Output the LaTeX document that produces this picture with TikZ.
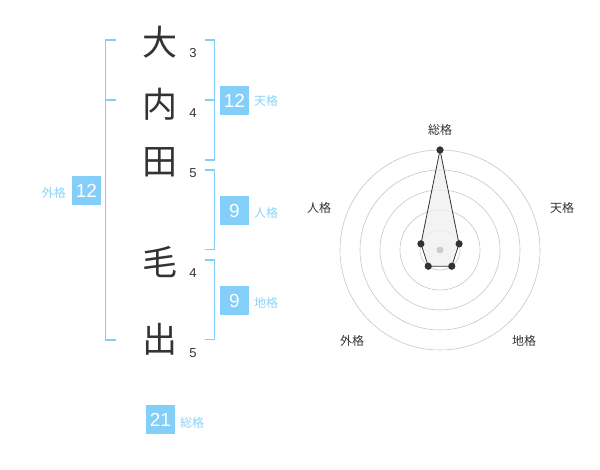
\documentclass[tikz,border=0pt]{standalone}
\usepackage{fontspec}
\setmainfont{Liberation Sans}
\newfontfamily\jp{Noto Sans CJK JP}
\usetikzlibrary{calc}
\definecolor{kakublue}{HTML}{84CFFA}
\definecolor{kakutext}{HTML}{8CD2F8}
\definecolor{inkgray}{HTML}{333333}
\begin{document}
\begin{tikzpicture}[
            x=1pt, y=-1pt,
			kanji/.style = {
			    text=inkgray,
                font=\jp\fontsize{35}{35}\selectfont,
                inner sep=0pt},
            strokes/.style = {
                text=inkgray,
                font=\fontsize{13}{13}\selectfont,
                inner sep=0pt},
            numbox/.style = {
                fill=kakublue,
                text=white,
                minimum size=29pt,
                inner sep=0pt,
                font=\fontsize{19}{19}\selectfont},
            kaku/.style = {
                text=kakutext,
                inner sep=0pt,
                font=\jp\fontsize{12}{12}\selectfont},
            bracket/.style = {
                draw=kakublue,
                line width=1.6pt},
            ring/.style = {
                draw=black!22,
                line width=0.6pt},
            axis/.style = {
                text=inkgray,
                inner sep=0pt,
                font=\jp\fontsize{12}{12}\selectfont},
            dot/.style = {
                circle,
                fill=inkgray,
                inner sep=0pt,
                minimum size=7pt}]
        \useasboundingbox (0,0) rectangle (600,470);
        % Place nodes
        \node [kanji] (c1) at (160,42) {大};
        \node [kanji] (c2) at (160,104) {内};
        \node [kanji] (c3) at (160,162) {田};
        \node [kanji] (c4) at (160,262) {毛};
        \node [kanji] (c5) at (160,339) {出};
        \node [strokes] (s1) at (193,53) {3};
        \node [strokes] (s2) at (193,113) {4};
        \node [strokes] (s3) at (193,173) {5};
        \node [strokes] (s4) at (193,273) {4};
        \node [strokes] (s5) at (193,353) {5};
        \node [numbox] (ten) at (234.5,100.5) {12};
        \node [kaku, anchor=west] (tenl) at (254,101) {天格};
        \node [numbox] (jin) at (234.5,210.5) {9};
        \node [kaku, anchor=west] (jinl) at (254,213) {人格};
        \node [numbox] (chi) at (234.5,300.5) {9};
        \node [kaku, anchor=west] (chil) at (254,303) {地格};
        \node [numbox] (gai) at (86.5,190.5) {12};
        \node [kaku, anchor=east] (gail) at (66,193) {外格};
        \node [numbox] (sou) at (160.5,419.5) {21};
        \node [kaku, anchor=west] (soul) at (180,423) {総格};

        % Draw brackets
        \draw [bracket] (116,40) -- (105.5,40) -- (105.5,340) -- (116,340);
        \draw [bracket] (105.5,100) -- (116,100);
        \draw [bracket] (205,40) -- (214.5,40) -- (214.5,160) -- (205,160);
        \draw [bracket] (205,100) -- (214.5,100);
        \draw [bracket] (205,170) -- (214.5,170) -- (214.5,249.5) -- (205,249.5);
        \draw [bracket] (205,260) -- (214.5,260) -- (214.5,339.5) -- (205,339.5);

        % Radar chart
        \coordinate (c) at (440,250);
        \foreach \r in {20,40,...,100}
            \draw [ring] (c) circle (\r pt);
        \node [axis] (asou) at (440,130) {総格};
        \node [axis] (aten) at (562,208) {天格};
        \node [axis] (achi) at (524,341) {地格};
        \node [axis] (agai) at (352,341) {外格};
        \node [axis] (ajin) at (319,208) {人格};
        \node [dot] (psou) at ($(c)+(-90:100)$) {};
        \node [dot] (pten) at ($(c)+(-18:20)$) {};
        \node [dot] (pchi) at ($(c)+(54:20)$) {};
        \node [dot] (pgai) at ($(c)+(126:20)$) {};
        \node [dot] (pjin) at ($(c)+(198:20)$) {};
        \draw [inkgray, line width=0.8pt, fill=black!6, fill opacity=0.8]
            (psou.center) -- (pten.center) -- (pchi.center) -- (pgai.center) -- (pjin.center) -- cycle;
        \foreach \p in {psou,pten,pchi,pgai,pjin}
            \fill [inkgray] (\p) circle (3.5pt);
        \fill [black!20] (c) circle (3.5pt);
    \end{tikzpicture}
\end{document}
